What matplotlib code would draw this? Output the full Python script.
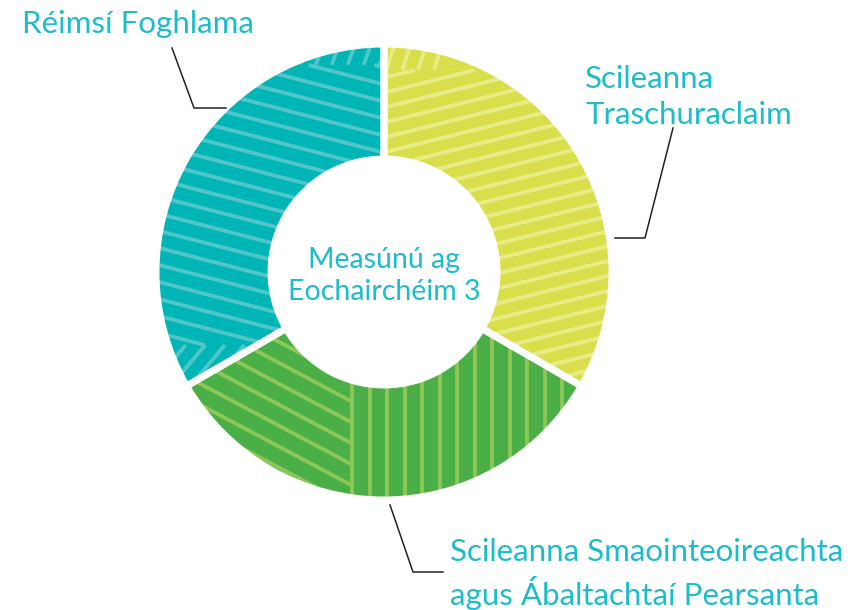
import numpy as np
import matplotlib
matplotlib.use("Agg")
import matplotlib.pyplot as plt
from matplotlib.patches import Wedge

labels = ["Scileanna\nTraschuraclaim",
          "Scileanna Smaointeoireachta\nagus Ábaltachtaí Pearsanta",
          "Réimsí Foghlama"]
values = [1, 1, 1]
colors = ["#D9DF4A", "#4BAF47", "#00B5B5"]
line_colors = ["#E8EC86", "#8CC757", "#4FC6C9"]
center_text = "Measúnú ag\nEochairchéim 3"
text_color = "#1CBDCA"

W, H = 868, 610
fig = plt.figure(figsize=(W / 100, H / 100), dpi=100)
ax = fig.add_axes([0, 0, 1, 1])

cx, cy = 384, H - 272
R, r = 228, 113

wedges, _ = ax.pie(values, colors=colors, startangle=90, counterclock=False,
                   radius=R, center=(cx, cy), frame=True,
                   wedgeprops=dict(width=R - r, edgecolor="none"))
ax.set_xlim(0, W)
ax.set_ylim(0, H)
ax.set_aspect("equal")
ax.axis("off")


def clip_seg(p0, p1, box):
    x0, x1, y0, y1 = box
    dx, dy = p1[0] - p0[0], p1[1] - p0[1]
    t0, t1 = 0.0, 1.0
    for p, q in ((-dx, p0[0] - x0), (dx, x1 - p0[0]), (-dy, p0[1] - y0), (dy, y1 - p0[1])):
        if p == 0:
            if q < 0:
                return None
        else:
            t = q / p
            if p < 0:
                t0 = max(t0, t)
            else:
                t1 = min(t1, t)
    if t0 > t1:
        return None
    return (p0[0] + t0 * dx, p0[1] + t0 * dy), (p0[0] + t1 * dx, p0[1] + t1 * dy)


def hatch(wedge, angle_deg, spacing, color, lw, box=None, phase=0.0):
    a = np.deg2rad(angle_deg)
    d = np.array([np.cos(a), np.sin(a)])
    n = np.array([-np.sin(a), np.cos(a)])
    L = 400
    for k in np.arange(-30, 31):
        o = np.array([cx, cy]) + n * (k * spacing + phase)
        p0, p1 = o - d * L, o + d * L
        if box is not None:
            res = clip_seg(p0, p1, box)
            if res is None:
                continue
            p0, p1 = res
        ln, = ax.plot([p0[0], p1[0]], [p0[1], p1[1]], color=color, lw=lw,
                      solid_capstyle="butt", zorder=2)
        ln.set_clip_path(wedge)


lw = 2.8
# yellow
hatch(wedges[0], 14, 14.5, line_colors[0], lw, box=(cx, W, 0, H - 70))
hatch(wedges[0], 72, 15, line_colors[0], lw, box=(cx, 450, H - 70, H))
# green: diagonal on the left, vertical on the right
hatch(wedges[1], -28, 18.5, line_colors[1], lw, box=(0, 352, 0, H))
hatch(wedges[1], 90, 17.5, line_colors[1], lw, box=(352, W, 0, H), phase=32)
# teal
hatch(wedges[2], -14.5, 16.5, line_colors[2], lw, box=(0, cx, H - 345, H - 65))
hatch(wedges[2], 70, 15, line_colors[2], lw, box=(300, cx, H - 65, H))
hatch(wedges[2], 50, 15, line_colors[2], lw, box=(0, cx, 0, H - 345))

# white gaps between segments
for w in wedges:
    ax.add_patch(Wedge(w.center, w.r, w.theta1, w.theta2, width=w.width,
                       facecolor="none", edgecolor="white", lw=5, zorder=3))

font = ["Lato", "DejaVu Sans"]
fs = 22.5
ax.text(cx, H - 276, center_text, ha="center", va="center", color=text_color,
        fontsize=20.5, family=font, linespacing=1.3, zorder=5)
ax.text(22, H - 24, labels[2], ha="left", va="center", color=text_color,
        fontsize=fs, family=font, zorder=5)
ax.text(585, H - 97, labels[0], ha="left", va="center", color=text_color,
        fontsize=fs, family=font, linespacing=1.38, zorder=5)
ax.text(450, H - 574, labels[1], ha="left", va="center", color=text_color,
        fontsize=fs, family=font, linespacing=1.33, zorder=5)

lk = dict(color="#222222", lw=1.1, zorder=5)
ax.plot([172, 194, 226], [H - 48, H - 108, H - 108], **lk)
ax.plot([615, 645, 673], [H - 238, H - 238, H - 128], **lk)
ax.plot([390, 413, 443], [H - 505, H - 572, H - 572], **lk)

fig.savefig("out.png", dpi=100, facecolor="white")
